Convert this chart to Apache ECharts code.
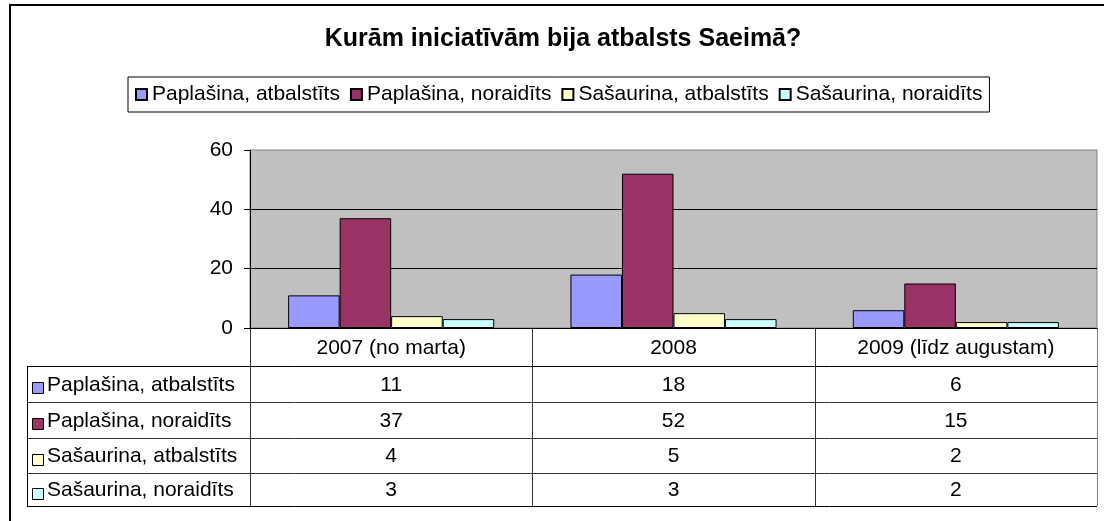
<!DOCTYPE html>
<html>
<head>
<meta charset="utf-8">
<script src="https://cdn.jsdelivr.net/npm/echarts@6/dist/echarts.min.js"></script>
<style>
  html, body { margin: 0; padding: 0; background: #fff; }
  #chart { width: 1104px; height: 521px; }
</style>
</head>
<body>
<div id="chart"></div>
<script>
// dati
const categories = ['2007 (no marta)', '2008', '2009 (līdz augustam)']
const seriesNames = ['Paplašina, atbalstīts', 'Paplašina, noraidīts', 'Sašaurina, atbalstīts', 'Sašaurina, noraidīts']
const paplasinaAtbalstits = [11, 18, 6]
const paplasinaNoraidits = [37, 52, 15]
const sasaurinaAtbalstits = [4, 5, 2]
const sasaurinaNoraidits = [3, 3, 2]
const yMin = 0
const yMax = 60
const yStep = 20

const values = [paplasinaAtbalstits, paplasinaNoraidits, sasaurinaAtbalstits, sasaurinaNoraidits]
const colors = ['#9999FF', '#993366', '#FFFFCC', '#CCFFFF']
const FONT = 'Liberation Sans, Arial, sans-serif'

// izkārtojums
const gridLeft = 250
const gridTop = 150
const gridRight = 1097
const gridBottom = 328
const tableLeft = 27
const rowLines = [366, 402, 438, 473, 506]

const chart = echarts.init(document.getElementById('chart'))

const option = {
  backgroundColor: '#fff',
  animation: false,
  textStyle: { fontFamily: FONT, color: '#000' },
  title: {
    text: 'Kurām iniciatīvām bija atbalsts Saeimā?',
    left: 558,
    top: 22,
    textAlign: 'center',
    textStyle: { fontSize: 25, fontWeight: 'bold', color: '#000', fontFamily: FONT }
  },
  legend: {
    data: seriesNames,
    left: 128,
    top: 77,
    padding: [7, 7, 7, 7],
    itemGap: 10,
    itemWidth: 11,
    itemHeight: 11,
    icon: 'rect',
    selectedMode: false,
    borderColor: '#000',
    borderWidth: 1,
    backgroundColor: '#fff',
    textStyle: { fontSize: 21, color: '#000', fontFamily: FONT }
  },
  grid: {
    left: gridLeft,
    top: gridTop,
    width: gridRight - gridLeft,
    height: gridBottom - gridTop,
    show: true,
    backgroundColor: '#C0C0C0',
    borderColor: '#808080',
    borderWidth: 1
  },
  xAxis: {
    type: 'category',
    data: categories,
    axisLine: { lineStyle: { color: '#000', width: 1 } },
    axisTick: { show: false },
    axisLabel: { show: false },
    splitLine: { show: false }
  },
  yAxis: {
    type: 'value',
    min: yMin,
    max: yMax,
    interval: yStep,
    axisLine: { show: true, lineStyle: { color: '#000', width: 1 } },
    axisTick: { show: true, inside: false, length: 6, lineStyle: { color: '#000' } },
    axisLabel: { margin: 17, fontSize: 21, color: '#000', fontFamily: FONT },
    splitLine: { show: true, showMinLine: false, showMaxLine: false, lineStyle: { color: '#000', width: 1 } }
  },
  series: seriesNames.map((name, i) => ({
    name,
    type: 'bar',
    data: values[i],
    barGap: '0%',
    barCategoryGap: '27%',
    itemStyle: { color: colors[i], borderColor: '#000', borderWidth: 1 }
  }))
}

chart.setOption(option)

// datu tabula zem grafika
const graphic = []
const line = (x1, y1, x2, y2, stroke) => graphic.push({
  type: 'line',
  silent: true,
  shape: { x1, y1, x2, y2 },
  style: { stroke: stroke || '#000', lineWidth: 1 }
})

const band = (gridRight - gridLeft) / categories.length
const colEdges = categories.map((_, i) => gridLeft + band * i)
colEdges.push(gridRight)

// ārējais rāmis
graphic.push({
  type: 'rect',
  silent: true,
  shape: { x: 10, y: 5, width: 1200, height: 600 },
  style: { fill: null, stroke: '#000', lineWidth: 2 }
})

// horizontālās līnijas
rowLines.forEach((y, i) => {
  const edge = i === 0 || i === rowLines.length - 1
  line(tableLeft, y + 0.5, gridRight, y + 0.5, edge ? '#000' : '#333')
})
// vertikālās līnijas
line(tableLeft + 0.5, rowLines[0], tableLeft + 0.5, rowLines[rowLines.length - 1])
colEdges.forEach((x, i) => {
  const xx = Math.round(x) + 0.5
  line(xx, gridBottom, xx, rowLines[rowLines.length - 1], i === colEdges.length - 1 ? '#808080' : '#333')
})

// kategoriju nosaukumi
categories.forEach((c, i) => {
  const cx = chart.convertToPixel({ xAxisIndex: 0 }, c)
  graphic.push({
    type: 'text',
    silent: true,
    style: {
      text: c, x: cx, y: (gridBottom + rowLines[0]) / 2 + 1,
      fill: '#000', fontSize: 21, fontFamily: FONT, align: 'center', verticalAlign: 'middle'
    }
  })
})

// rindas
seriesNames.forEach((name, r) => {
  const yc = (rowLines[r] + rowLines[r + 1]) / 2 + 1
  graphic.push({
    type: 'rect',
    silent: true,
    shape: { x: 32.5, y: Math.round(yc - 3) + 0.5, width: 11, height: 11 },
    style: { fill: colors[r], stroke: '#000', lineWidth: 1 }
  })
  graphic.push({
    type: 'text',
    silent: true,
    style: {
      text: name, x: 47, y: yc,
      fill: '#000', fontSize: 21, fontFamily: FONT, align: 'left', verticalAlign: 'middle'
    }
  })
  values[r].forEach((v, i) => {
    const cx = chart.convertToPixel({ xAxisIndex: 0 }, categories[i])
    graphic.push({
      type: 'text',
      silent: true,
      style: {
        text: String(v), x: cx, y: yc,
        fill: '#000', fontSize: 21, fontFamily: FONT, align: 'center', verticalAlign: 'middle'
      }
    })
  })
})

chart.setOption({ graphic })
</script>
</body>
</html>
